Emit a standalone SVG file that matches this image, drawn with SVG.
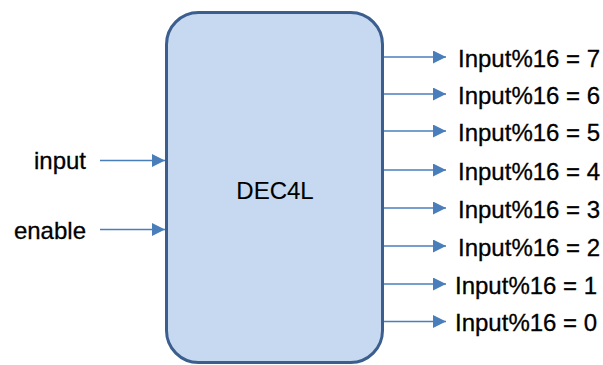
<svg xmlns="http://www.w3.org/2000/svg" width="603" height="365" viewBox="0 0 603 365">
<defs>
<style>
.t{font-family:"Liberation Sans",Arial,sans-serif;font-size:24px;fill:#000;stroke:#000;stroke-width:0.3}
.c{stroke:#4a7ebb;stroke-width:1.6;fill:none}
</style>
<marker id="ah" markerUnits="userSpaceOnUse" markerWidth="13" markerHeight="13" refX="13" refY="6.5" orient="auto">
<path d="M0,0 L13,6.5 L0,13 Z" fill="#4a7ebb"/>
</marker>
</defs>
<rect width="603" height="365" fill="#fff"/>
<g id="dec4l">
<rect x="166.5" y="12.5" width="216" height="350" rx="32" ry="32" fill="#c6d9f0" stroke="#3b5e8e" stroke-width="3"/>
<text class="t" x="275" y="198.5" text-anchor="middle" style="stroke-width:0.1">DEC4L</text>
</g>
<g id="connectors">
<line class="c" x1="100" y1="160.5" x2="165" y2="160.5" marker-end="url(#ah)"/>
<line class="c" x1="100" y1="229.5" x2="165" y2="229.5" marker-end="url(#ah)"/>
<line class="c" x1="384" y1="57" x2="446" y2="57" marker-end="url(#ah)"/>
<line class="c" x1="384" y1="94" x2="446" y2="94" marker-end="url(#ah)"/>
<line class="c" x1="384" y1="131" x2="446" y2="131" marker-end="url(#ah)"/>
<line class="c" x1="384" y1="170" x2="446" y2="170" marker-end="url(#ah)"/>
<line class="c" x1="384" y1="208" x2="446" y2="208" marker-end="url(#ah)"/>
<line class="c" x1="384" y1="246" x2="446" y2="246" marker-end="url(#ah)"/>
<line class="c" x1="384" y1="284" x2="446" y2="284" marker-end="url(#ah)"/>
<line class="c" x1="384" y1="321.5" x2="446" y2="321.5" marker-end="url(#ah)"/>
</g>
<g id="in-input"><text class="t" x="86" y="169" text-anchor="end">input</text></g>
<g id="in-enable"><text class="t" x="86" y="238.5" text-anchor="end">enable</text></g>
<g id="out7"><text class="t" x="458" y="66.5">Input%16 = 7</text></g>
<g id="out6"><text class="t" x="458" y="103.5">Input%16 = 6</text></g>
<g id="out5"><text class="t" x="458" y="140.5">Input%16 = 5</text></g>
<g id="out4"><text class="t" x="458" y="179.5">Input%16 = 4</text></g>
<g id="out3"><text class="t" x="458" y="217.5">Input%16 = 3</text></g>
<g id="out2"><text class="t" x="458" y="255.5">Input%16 = 2</text></g>
<g id="out1"><text class="t" x="455" y="293.5">Input%16 = 1</text></g>
<g id="out0"><text class="t" x="455" y="331">Input%16 = 0</text></g>
</svg>
